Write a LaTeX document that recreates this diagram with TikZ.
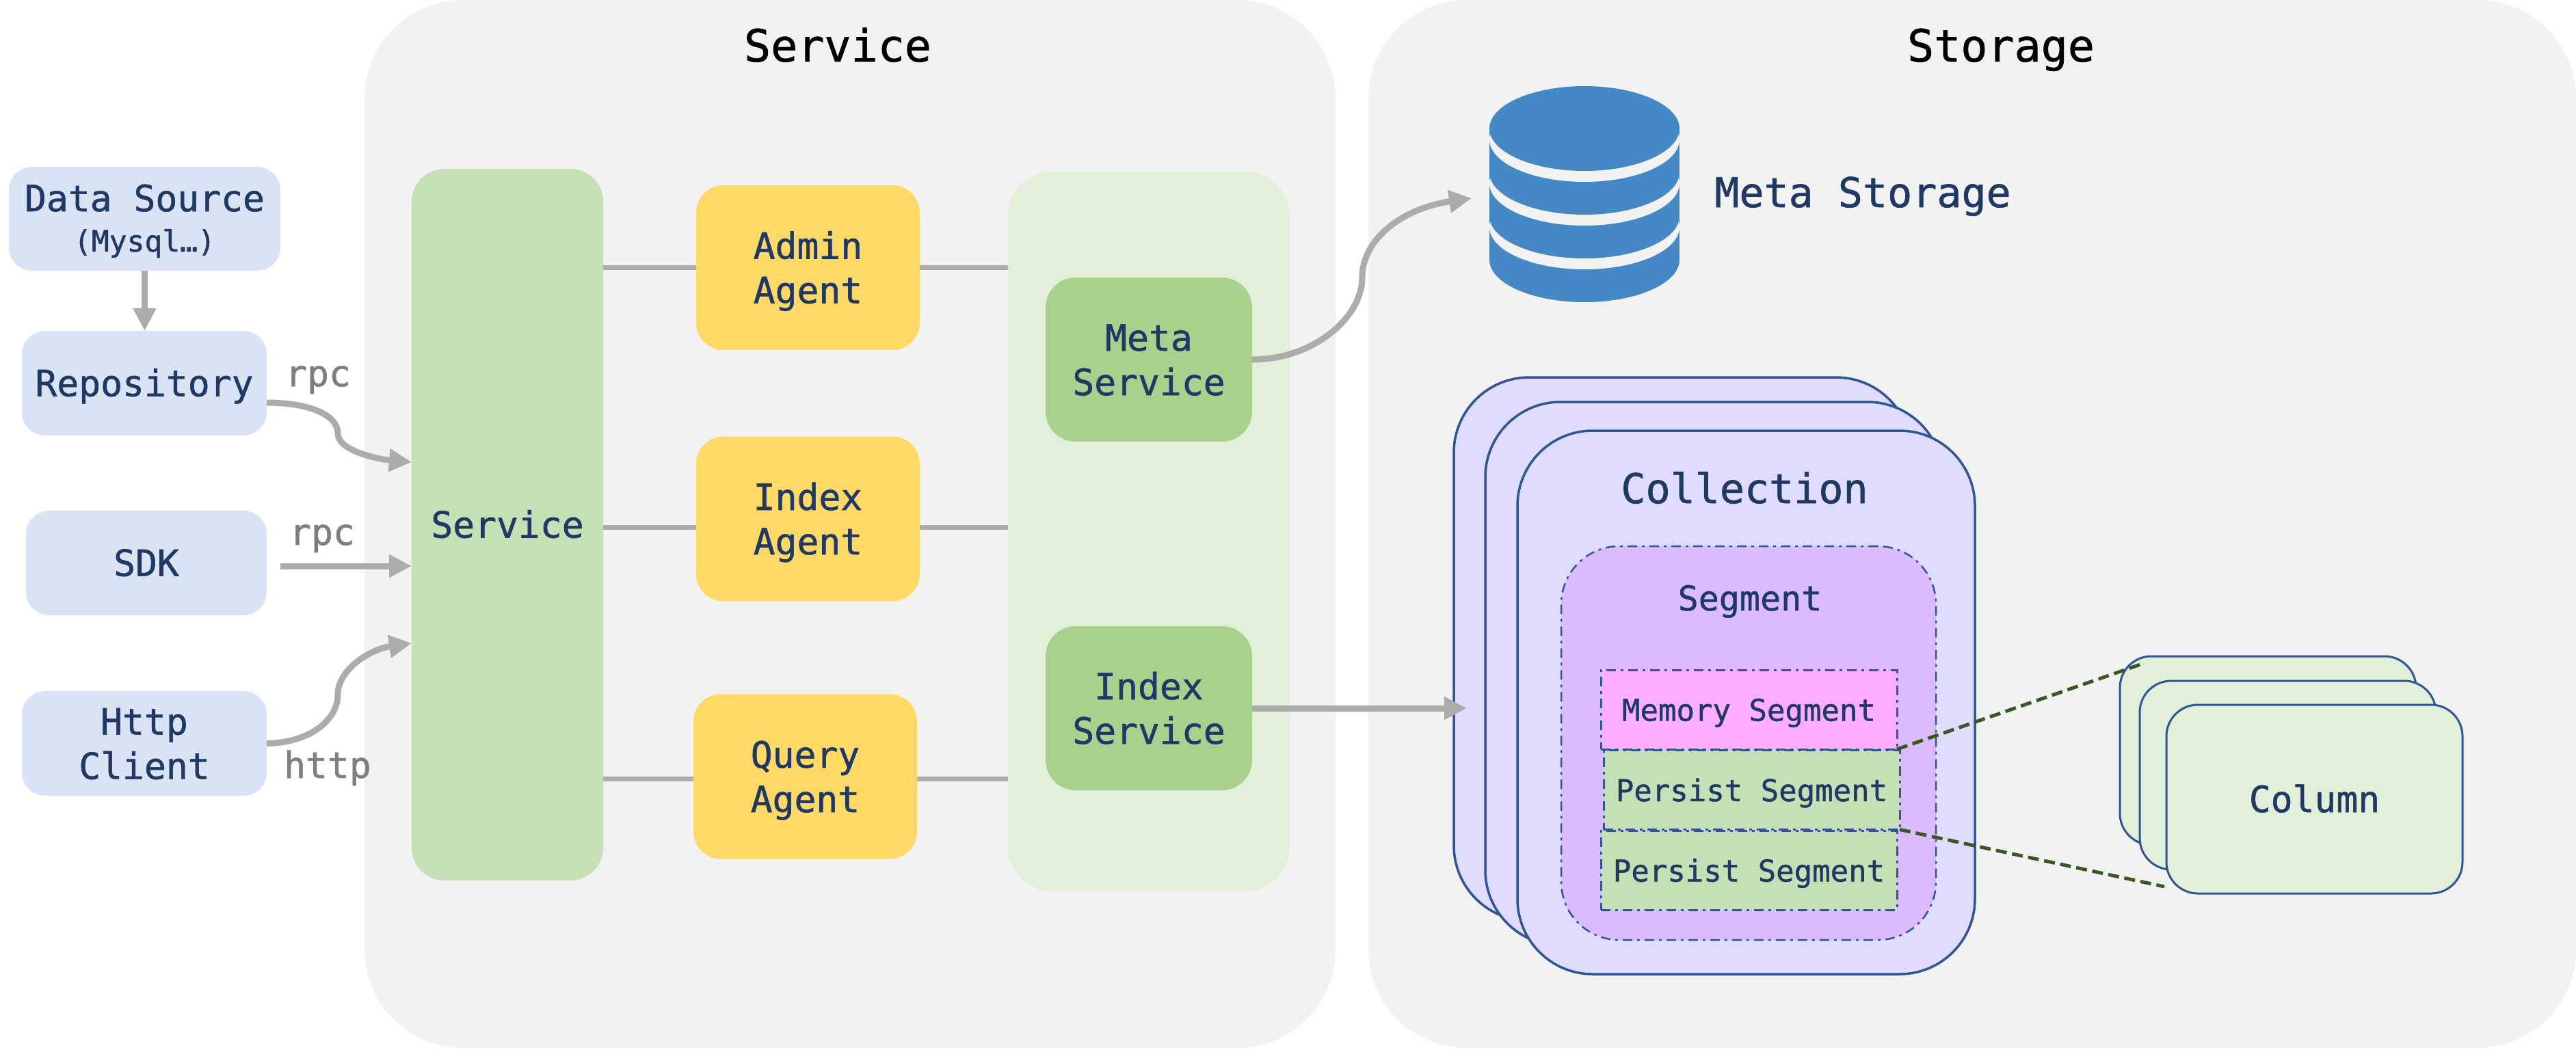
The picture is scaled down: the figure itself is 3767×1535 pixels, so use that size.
\documentclass[tikz,border=0pt]{standalone}
\usepackage{fontspec}
\setmainfont[RawFeature={embolden=1}]{DejaVu Sans Mono}
\usetikzlibrary{arrows.meta}
\definecolor{panel}{RGB}{242, 242, 242}
\definecolor{navy}{RGB}{31, 56, 100}
\definecolor{edge}{RGB}{47, 85, 151}
\definecolor{wire}{RGB}{174, 171, 171}
\definecolor{label}{RGB}{127, 127, 127}
\definecolor{client}{RGB}{218, 227, 243}
\definecolor{leaf}{RGB}{197, 224, 180}
\definecolor{pale}{RGB}{226, 240, 217}
\definecolor{mid}{RGB}{169, 209, 142}
\definecolor{agent}{RGB}{255, 217, 102}
\definecolor{disk}{RGB}{68, 136, 198}
\definecolor{coll}{RGB}{223, 220, 255}
\definecolor{segm}{RGB}{218, 187, 252}
\definecolor{memo}{RGB}{255, 173, 255}
\definecolor{dashline}{RGB}{56, 87, 35}

\begin{document}
\begin{tikzpicture}[
   x=1pt, y=-1pt,
   every node/.style={inner sep=0, outer sep=0, align=center, text=navy,
               font=\fontsize{53}{65}\selectfont, text height=46, text depth=8},
   twoline/.style={text height=112, text depth=8},
   panelbox/.style={rectangle, rounded corners=144, fill=panel},
   clientbox/.style={rectangle, rounded corners=34, fill=client},
   servicebox/.style={rectangle, rounded corners=48, fill=leaf},
   groupbox/.style={rectangle, rounded corners=66, fill=pale},
   midbox/.style={rectangle, rounded corners=44, fill=mid, twoline},
   agentbox/.style={rectangle, rounded corners=40, fill=agent, twoline},
   collbox/.style={rectangle, rounded corners=110, draw=edge, line width=3.5,
               fill=coll, minimum width=669, minimum height=795},
   segmbox/.style={rectangle, rounded corners=85, draw=edge, line width=2.5,
               fill=segm, dash pattern=on 14 off 7 on 4 off 7},
   partbox/.style={rectangle, draw=edge, line width=3, minimum width=433,
               minimum height=116, dash pattern=on 14 off 7 on 4 off 7,
               font=\fontsize{44}{54}\selectfont, text height=39, text depth=6},
   colbox/.style={rectangle, rounded corners=46, draw=edge, line width=3,
               fill=pale, minimum width=433, minimum height=276},
   wirelabel/.style={text=label},
   titlelabel/.style={text=black, font=\fontsize{65}{78}\selectfont,
               text height=58, text depth=8},
   biglabel/.style={font=\fontsize{60}{72}\selectfont, text height=54, text depth=8},
   smalllabel/.style={font=\fontsize{50}{60}\selectfont, text height=44, text depth=6},
   flow/.style={->, >={Stealth[inset=0pt, length=33, width=32]}, color=wire,
               line width=9},
   link/.style={color=wire, line width=7},
   peek/.style={color=dashline, line width=5, dash pattern=on 16 off 8}
  ]

  \useasboundingbox (0, 0) rectangle (3767, 1535);

  % Panels
  \node (SP) at (1243, 766.5) [panelbox, minimum width=1420, minimum height=1533] {};
  \node (ST) at (2884, 766.5) [panelbox, minimum width=1766, minimum height=1533] {};
  \node (SPT) at (1225, 65) [titlelabel] {Service};
  \node (STT) at (2926, 65) [titlelabel] {Storage};

  % Clients
  \node (DS) at (211.5, 320) [clientbox, minimum width=397, minimum height=152,
     text height=104] {Data Source\\[-6pt]{\fontsize{43}{50}\selectfont (Mysql…)}};
  \node (RP) at (211, 560.5) [clientbox, minimum width=358, minimum height=153] {Repository};
  \node (SD) at (214, 823.5) [clientbox, minimum width=352, minimum height=153] {SDK};
  \node (HC) at (211, 1087.5) [clientbox, twoline, minimum width=358, minimum height=153] {Http\\Client};

  \node (L1) at (465, 546) [wirelabel] {rpc};
  \node (L2) at (471, 778) [wirelabel] {rpc};
  \node (L3) at (479, 1119) [wirelabel] {http};

  % Service column
  \node (SV) at (742, 767.5) [servicebox, minimum width=280, minimum height=1041] {Service};

  \node (AA) at (1181.5, 391.5) [agentbox, minimum width=327, minimum height=241] {Admin\\Agent};
  \node (IA) at (1181.5, 759) [agentbox, minimum width=327, minimum height=241] {Index\\Agent};
  \node (QA) at (1177.5, 1136) [agentbox, minimum width=327, minimum height=241] {Query\\Agent};

  \node (GR) at (1680, 777.5) [groupbox, minimum width=412, minimum height=1053] {};
  \node (MS) at (1680, 526) [midbox, minimum width=302, minimum height=240] {Meta\\Service};
  \node (IS) at (1680, 1036) [midbox, minimum width=302, minimum height=240] {Index\\Service};

  \foreach \A/\S in {AA/0, IA/-12, QA/-3} {
    \draw[link] ([yshift=\S]\A.west -| SV.east) -- ([yshift=\S]\A.west);
    \draw[link] ([yshift=\S]\A.east) -- ([yshift=\S]\A.east -| GR.west);
  }

  % Meta storage
  \fill[disk] (2178, 188) rectangle (2456, 380);
  \fill[disk] (2317, 380) ellipse [x radius=139, y radius=62];
  \foreach \Y in {316, 252, 188} {
    \fill[panel] (2317, \Y + 16) ellipse [x radius=139, y radius=62];
    \fill[disk] (2317, \Y) ellipse [x radius=139, y radius=62];
  }
  \coordinate (DB) at (2152, 290);
  \node (MT) at (2724, 280) [biglabel] {Meta Storage};

  % Collections
  \node (C1) at (2460.5, 949.5) [collbox] {};
  \node (C2) at (2506.5, 985.5) [collbox] {};
  \node (C3) at (2553.5, 1027.5) [collbox] {};
  \node (CT) at (2551, 713) [biglabel] {Collection};

  \node (SG) at (2557, 1087) [segmbox, minimum width=548, minimum height=576] {};
  \node (SGT) at (2559, 874) [smalllabel] {Segment};
  \node (MM) at (2557.5, 1038) [partbox, fill=memo] {Memory Segment};
  \node (P1) at (2561.5, 1155.5) [partbox, fill=leaf] {Persist Segment};
  \node (P2) at (2557.5, 1273) [partbox, fill=leaf] {Persist Segment};

  % Columns
  \node (K1) at (3316.5, 1098) [colbox] {};
  \node (K2) at (3345.5, 1134) [colbox] {};
  \node (K3) at (3384.5, 1169) [colbox] {Column};

  \coordinate (KA) at (3130, 972);
  \coordinate (KB) at (3165, 1297);
  \draw[peek] (MM.south east) -- (KA);
  \draw[peek] (P1.south east) -- (KB);

  % Arrows
  \draw[flow] (DS.south) -- (RP.north -| DS);
  \draw[flow] ([yshift=-28.5]RP.east) .. controls (450, 589) and (494, 606) .. (494, 634)
     .. controls (494, 660) and (555, 672) .. ([yshift=91.5]SV.west);
  \draw[flow, shorten <=20] ([yshift=-4.5]SD.east) -- ([yshift=-60.5]SV.west);
  \draw[flow] (HC.east) .. controls (450, 1087) and (494, 1055) .. (494, 1016)
     .. controls (494, 980) and (540, 950) .. ([yshift=-173.5]SV.west);
  \draw[flow] (MS.east) .. controls (1920, 526) and (1992, 465) .. (1992, 406)
     .. controls (1992, 350) and (2050, 305) .. (DB);
  \draw[flow] (IS.east) -- ([xshift=19]C1.west |- IS.east);

\end{tikzpicture}
\end{document}
